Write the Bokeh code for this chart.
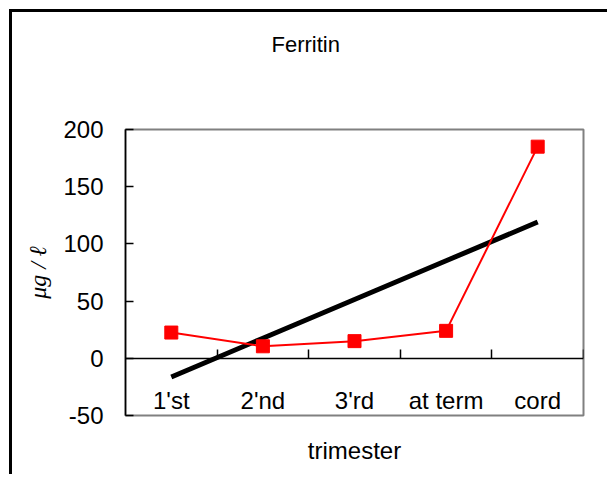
import numpy as np
from bokeh.plotting import figure
from bokeh.models import LinearAxis, FixedTicker, Range1d
from bokeh.embed import file_html
from bokeh.resources import INLINE

# ---- data ----
categories = ["1'st", "2'nd", "3'rd", "at term", "cord"]
ferritin = [22.5, 10.5, 15, 24, 185]
y_ticks = [-50, 0, 50, 100, 150, 200]
title_text = "Ferritin"
x_title = "trimester"
y_title = "μg / ℓ"

xpos = list(range(1, len(categories) + 1))
sep_ticks = [x + 0.5 for x in xpos]
# linear trendline fitted to the series
slope, intercept = np.polyfit(xpos, ferritin, 1)
trend = [slope * x + intercept for x in xpos]

FONT = "Liberation Sans"
INK = "black"

p = figure(width=598, height=465, output_backend="svg", toolbar_location=None,
           x_range=Range1d(0.5, 5.5), y_range=Range1d(-50, 200),
           min_border_left=113, min_border_right=27,
           min_border_top=117, min_border_bottom=62)
p.styles = {"margin-left": "9px", "margin-top": "9px",
            "border-top": "3px solid black", "border-left": "3px solid black"}

p.grid.visible = False
p.outline_line_color = "#808080"
p.outline_line_width = 2
p.background_fill_color = "white"
p.border_fill_color = "white"

# default bottom axis: only the axis title
xax = p.xaxis[0]
xax.ticker = FixedTicker(ticks=[])
xax.axis_line_color = None
xax.major_tick_in = 0
xax.major_tick_out = 0
xax.minor_tick_in = 0
xax.minor_tick_out = 0
xax.axis_label = x_title
xax.axis_label_text_font = FONT
xax.axis_label_text_font_size = "24px"
xax.axis_label_text_font_style = "normal"
xax.axis_label_text_color = INK
xax.axis_label_standoff = 21

# y axis
yax = p.yaxis[0]
yax.ticker = FixedTicker(ticks=y_ticks)
yax.major_label_overrides = {t: str(t) for t in y_ticks}
yax.major_tick_in = 8
yax.major_tick_out = 0
yax.minor_tick_in = 0
yax.minor_tick_out = 0
yax.axis_line_color = "black"
yax.axis_line_width = 1.5
yax.major_tick_line_width = 1.5
yax.major_label_text_font = FONT
yax.major_label_text_font_size = "24px"
yax.major_label_text_color = INK
yax.major_label_standoff = 22
yax.axis_label = y_title
yax.axis_label_text_font = "Liberation Serif"
yax.axis_label_text_font_size = "24px"
yax.axis_label_text_font_style = "italic"
yax.axis_label_text_color = INK
yax.axis_label_standoff = 9

# invisible spacer axis above the frame (minor ticks only, no labels),
# so that the title sits high above the plot area
spacer = LinearAxis(ticker=FixedTicker(ticks=[], minor_ticks=xpos), axis_line_color=None,
                    major_tick_in=0, major_tick_out=0, minor_tick_in=0, minor_tick_out=68,
                    major_tick_line_color=None, minor_tick_line_color=None,
                    major_label_standoff=0)
p.add_layout(spacer, "above")

p.title.text = title_text
p.title.align = "left"
p.title.offset = 146
p.title.text_font = FONT
p.title.text_font_size = "22px"
p.title.text_font_style = "normal"
p.title.text_color = INK
p.title.standoff = 10

# series
p.line(xpos, trend, line_color="black", line_width=5)
p.line(xpos, ferritin, line_color="red", line_width=2)
p.scatter(xpos, ferritin, marker="square", size=13, color="red")

# category axis at y=0, with separator ticks between categories
cat_axis = LinearAxis(fixed_location=0,
                      ticker=FixedTicker(ticks=xpos, minor_ticks=sep_ticks),
                      major_label_overrides={x: c for x, c in zip(xpos, categories)},
                      major_tick_in=0, major_tick_out=0,
                      minor_tick_in=9, minor_tick_out=0,
                      minor_tick_line_color="black", minor_tick_line_width=1.5,
                      axis_line_color="black", axis_line_width=1.5,
                      major_label_standoff=29, major_label_text_font=FONT,
                      major_label_text_font_size="24px", major_label_text_color=INK)
p.add_layout(cat_axis, "below")

open("out.html", "w").write(file_html(p, INLINE))
